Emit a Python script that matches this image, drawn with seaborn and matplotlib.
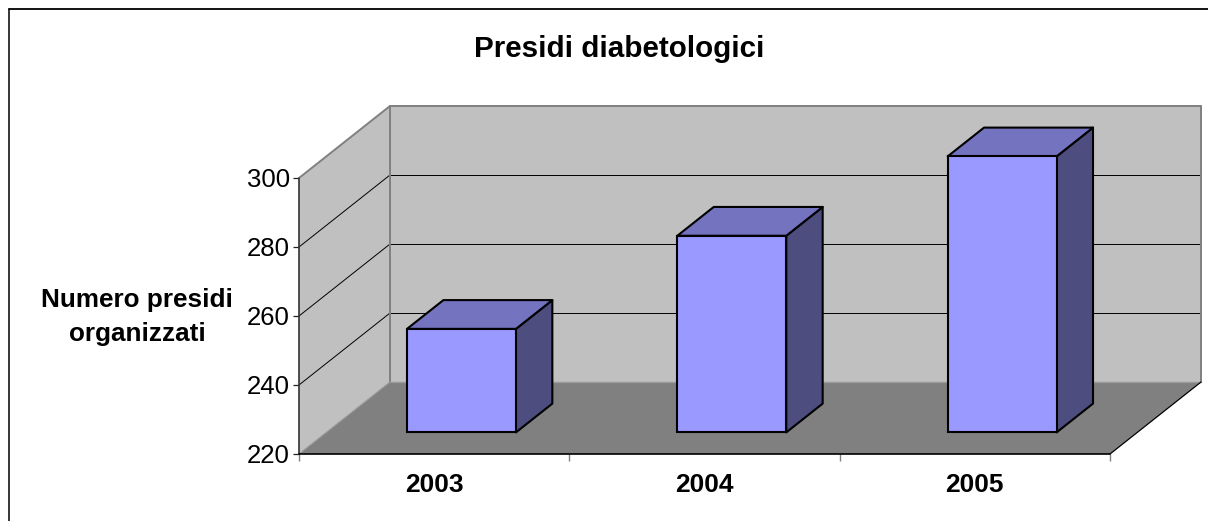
import matplotlib
matplotlib.use("Agg")
import matplotlib.pyplot as plt
from matplotlib.lines import Line2D
from matplotlib.patches import Polygon
from matplotlib.transforms import Affine2D, IdentityTransform
import numpy as np
import pandas as pd
import seaborn as sns

# Data
years = ["2003", "2004", "2005"]
presidi = [250, 277, 300]
y_ticks = [220, 240, 260, 280, 300]

W, H = 1208, 521
DEPTH_X, DEPTH_Y = 91, 72       # floor depth in pixels
BAR_FRONT, BAR_BACK = 0.30, 0.70  # bar position within the floor depth

WALL = "#C0C0C0"
FLOOR = "#808080"
EDGE = "#808080"
BAR = "#9999FF"
BAR_TOP = "#7373BF"
BAR_SIDE = "#4D4D80"

sns.set_style("white")
plt.rcParams['font.family'] = ['Liberation Sans', 'DejaVu Sans']
plt.rcParams['text.color'] = 'black'
plt.rcParams['axes.labelcolor'] = 'black'
plt.rcParams['xtick.labelcolor'] = 'black'
plt.rcParams['ytick.labelcolor'] = 'black'

fig = plt.figure(figsize=(W / 100, H / 100), dpi=100, facecolor='white')
ax = fig.add_axes([299 / W, (H - 454) / H, 811 / W, 276 / H])

df = pd.DataFrame({"anno": years, "presidi": presidi})
sns.barplot(data=df, x="anno", y="presidi", ax=ax, color=BAR, saturation=1,
            width=0.403, gap=0, zorder=5)

ax.set_xlim(-0.5, 2.5)
ax.set_ylim(y_ticks[0], y_ticks[-1])
ax.patch.set_visible(False)
for s in ax.spines.values():
    s.set_visible(False)


# Display position of a data point pushed back by a fraction of the floor depth
def pt(x, y, d=0.0):
    px, py = ax.transData.transform((x, y))
    return (px + DEPTH_X * d, py + DEPTH_Y * d)


def face(points, **kw):
    ax.add_patch(Polygon(points, closed=True, transform=IdentityTransform(),
                         clip_on=False, **kw))


def seg(p, q, color, lw, zorder=2):
    ax.add_line(Line2D([p[0], q[0]], [p[1], q[1]], color=color, lw=lw, zorder=zorder,
                       transform=IdentityTransform(), clip_on=False))


x0, x1 = ax.get_xlim()
y0, y1 = ax.get_ylim()

# Walls and floor
face([pt(x0, y0, 1), pt(x1, y0, 1), pt(x1, y1, 1), pt(x0, y1, 1)], fc=WALL, ec='none', zorder=1)
face([pt(x0, y0), pt(x0, y0, 1), pt(x0, y1, 1), pt(x0, y1)], fc=WALL, ec='none', zorder=1)
face([pt(x0, y0), pt(x1, y0), pt(x1, y0, 1), pt(x0, y0, 1)], fc=FLOOR, ec='none', zorder=1)

# Gridlines run along the side wall and the back wall
for t in y_ticks[1:-1]:
    seg(pt(x0, t), pt(x0, t, 1), 'black', 0.7)
    seg(pt(x0, t, 1), pt(x1, t, 1), 'black', 0.7)

# Wall outlines
seg(pt(x0, y1), pt(x0, y1, 1), EDGE, 1.4, 3)
seg(pt(x0, y1, 1), pt(x1, y1, 1), EDGE, 1.4, 3)
seg(pt(x1, y1, 1), pt(x1, y0, 1), EDGE, 1.4, 3)
seg(pt(x0, y1, 1), pt(x0, y0, 1), EDGE, 1.4, 3)
seg(pt(x0, y0, 1), pt(x1, y0, 1), '#999999', 1.0, 3)
seg(pt(x0, y0), pt(x0, y0, 1), '#999999', 0.8, 3)

# Axis lines
seg(pt(x0, y0), pt(x0, y1), '#333333', 1.2, 4)
seg(pt(x0, y0), pt(x1, y0), 'black', 1.2, 4)
seg(pt(x1, y0), pt(x1, y0, 1), 'black', 0.9, 4)

# Bars: the seaborn rectangles become the front face, sides and tops follow from them
shift = Affine2D().translate(DEPTH_X * BAR_FRONT, DEPTH_Y * BAR_FRONT)
for bar in ax.patches[:len(years)]:
    top = bar.get_height()
    bar.set_y(y0)
    bar.set_height(top - y0)
    left, right = bar.get_x(), bar.get_x() + bar.get_width()
    bar.set_transform(ax.transData + shift)
    bar.set_clip_on(False)
    bar.set_edgecolor('black')
    bar.set_linewidth(1.5)
    bar.set_zorder(6)
    face([pt(right, y0, BAR_FRONT), pt(right, y0, BAR_BACK), pt(right, top, BAR_BACK), pt(right, top, BAR_FRONT)],
         fc=BAR_SIDE, ec='black', lw=1.5, joinstyle='round', zorder=5)
    face([pt(left, top, BAR_FRONT), pt(right, top, BAR_FRONT), pt(right, top, BAR_BACK), pt(left, top, BAR_BACK)],
         fc=BAR_TOP, ec='black', lw=1.5, joinstyle='round', zorder=5)

# Ticks and labels
ax.set_yticks(y_ticks)
ax.tick_params(axis='y', left=True, length=4.5, width=0.9, color='#222222', pad=2,
               labelsize=18.5)
ax.set_xticks(np.arange(len(years)))
ax.set_xticklabels(years, fontsize=19, fontweight='bold')
ax.set_xticks(np.arange(len(years) + 1) - 0.5, minor=True)
ax.tick_params(axis='x', which='major', bottom=False, pad=10)
ax.tick_params(axis='x', which='minor', bottom=True, length=5, width=1.0, color=EDGE)
ax.set_xlabel("")

ax.set_ylabel("Numero presidi\norganizzati", rotation=0, fontsize=18.8, fontweight='bold',
              ha='center', va='center', linespacing=1.5)
ax.yaxis.set_label_coords((137 - 299) / 811, (454 - 317) / 276)

fig.text(619.5 / W, (H - 49) / H, "Presidi diabetologici", fontsize=21.3, fontweight='bold',
         ha='center', va='center')

# Outer chart frame, only top and left fall inside the picture
fig.add_artist(Line2D([9.2 / W, 9.2 / W], [0, (H - 8.5) / H], color='black', lw=1.1))
fig.add_artist(Line2D([9.2 / W, 1], [(H - 8.5) / H, (H - 8.5) / H], color='black', lw=1.3))

fig.savefig("out.png", dpi=100)
plt.close(fig)
